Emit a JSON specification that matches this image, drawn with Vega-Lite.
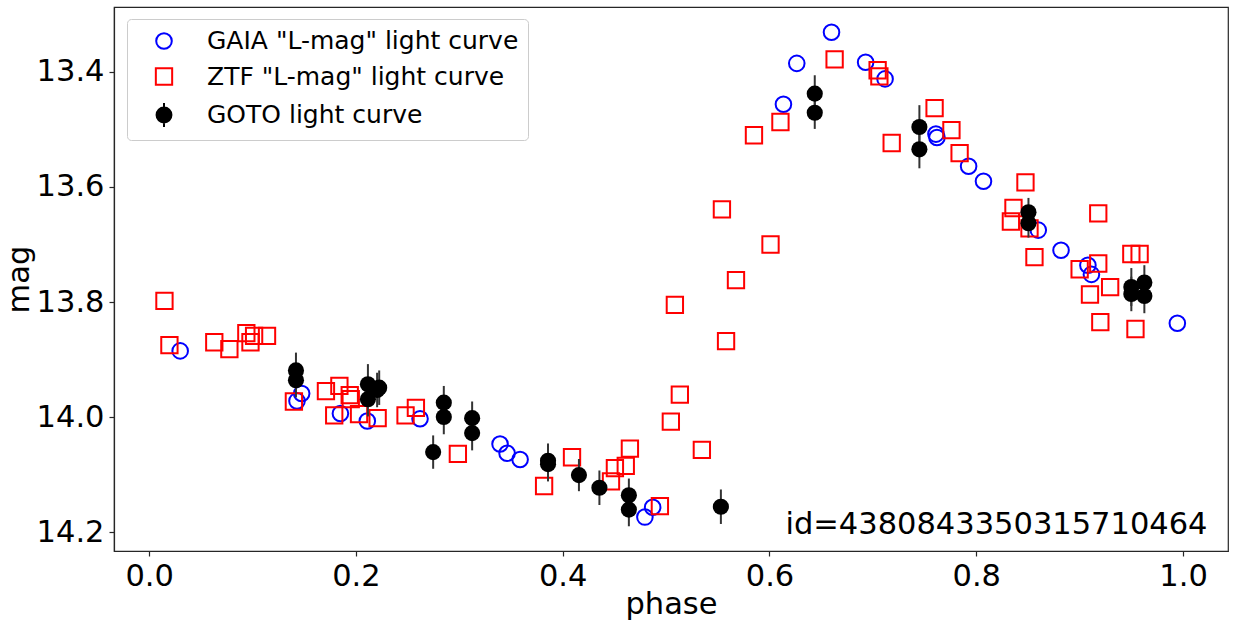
{
  "$schema": "https://vega.github.io/schema/vega-lite/v6.json",
  "width": 1114,
  "height": 544,
  "autosize": {"type": "none"},
  "padding": {"left": 114, "top": 7, "right": 9, "bottom": 76},
  "background": "white",
  "config": {
    "font": "DejaVu Sans",
    "view": {"stroke": "#262626", "strokeWidth": 1.2},
    "axis": {
      "labelFontSize": 30.5, "titleFontSize": 30.5,
      "labelFont": "DejaVu Sans", "titleFont": "DejaVu Sans",
      "titleFontWeight": "normal", "labelColor": "black", "titleColor": "black",
      "domainColor": "#262626", "tickColor": "#262626", "tickSize": 5, "tickWidth": 1.2,
      "domainWidth": 1.2, "labelPadding": 5, "grid": false
    },
    "legend": {
      "title": null,
      "orient": "none",
      "legendX": 13,
      "legendY": 12,
      "padding": 9,
      "symbolOffset": 15,
      "labelOffset": 30,
      "labelFontSize": 25,
      "labelFont": "DejaVu Sans",
      "labelColor": "black",
      "labelLimit": 0,
      "symbolSize": 576,
      "symbolStrokeWidth": 2,
      "rowPadding": 9.5,
      "strokeColor": "#cccccc",
      "fillColor": "rgba(255,255,255,0.8)",
      "cornerRadius": 4
    }
  },
  "datasets": {
    "pts": [
      {"series": "GAIA \"L-mag\" light curve", "phase": 0.030, "mag": 13.885},
      {"series": "GAIA \"L-mag\" light curve", "phase": 0.1475, "mag": 13.959},
      {"series": "GAIA \"L-mag\" light curve", "phase": 0.143, "mag": 13.972},
      {"series": "GAIA \"L-mag\" light curve", "phase": 0.185, "mag": 13.994},
      {"series": "GAIA \"L-mag\" light curve", "phase": 0.211, "mag": 14.007},
      {"series": "GAIA \"L-mag\" light curve", "phase": 0.262, "mag": 14.003},
      {"series": "GAIA \"L-mag\" light curve", "phase": 0.3394, "mag": 14.047},
      {"series": "GAIA \"L-mag\" light curve", "phase": 0.3462, "mag": 14.063},
      {"series": "GAIA \"L-mag\" light curve", "phase": 0.3588, "mag": 14.074},
      {"series": "GAIA \"L-mag\" light curve", "phase": 0.487, "mag": 14.157},
      {"series": "GAIA \"L-mag\" light curve", "phase": 0.4795, "mag": 14.174},
      {"series": "GAIA \"L-mag\" light curve", "phase": 0.6135, "mag": 13.456},
      {"series": "GAIA \"L-mag\" light curve", "phase": 0.6264, "mag": 13.385},
      {"series": "GAIA \"L-mag\" light curve", "phase": 0.660, "mag": 13.331},
      {"series": "GAIA \"L-mag\" light curve", "phase": 0.693, "mag": 13.383},
      {"series": "GAIA \"L-mag\" light curve", "phase": 0.7118, "mag": 13.412},
      {"series": "GAIA \"L-mag\" light curve", "phase": 0.761, "mag": 13.508},
      {"series": "GAIA \"L-mag\" light curve", "phase": 0.762, "mag": 13.514},
      {"series": "GAIA \"L-mag\" light curve", "phase": 0.7926, "mag": 13.564},
      {"series": "GAIA \"L-mag\" light curve", "phase": 0.807, "mag": 13.590},
      {"series": "GAIA \"L-mag\" light curve", "phase": 0.860, "mag": 13.675},
      {"series": "GAIA \"L-mag\" light curve", "phase": 0.882, "mag": 13.710},
      {"series": "GAIA \"L-mag\" light curve", "phase": 0.908, "mag": 13.736},
      {"series": "GAIA \"L-mag\" light curve", "phase": 0.9114, "mag": 13.752},
      {"series": "GAIA \"L-mag\" light curve", "phase": 0.9945, "mag": 13.837},
      {"series": "ZTF \"L-mag\" light curve", "phase": 0.0148, "mag": 13.798},
      {"series": "ZTF \"L-mag\" light curve", "phase": 0.0196, "mag": 13.875},
      {"series": "ZTF \"L-mag\" light curve", "phase": 0.063, "mag": 13.870},
      {"series": "ZTF \"L-mag\" light curve", "phase": 0.0776, "mag": 13.882},
      {"series": "ZTF \"L-mag\" light curve", "phase": 0.094, "mag": 13.854},
      {"series": "ZTF \"L-mag\" light curve", "phase": 0.098, "mag": 13.870},
      {"series": "ZTF \"L-mag\" light curve", "phase": 0.1015, "mag": 13.859},
      {"series": "ZTF \"L-mag\" light curve", "phase": 0.114, "mag": 13.859},
      {"series": "ZTF \"L-mag\" light curve", "phase": 0.140, "mag": 13.973},
      {"series": "ZTF \"L-mag\" light curve", "phase": 0.171, "mag": 13.955},
      {"series": "ZTF \"L-mag\" light curve", "phase": 0.184, "mag": 13.946},
      {"series": "ZTF \"L-mag\" light curve", "phase": 0.179, "mag": 13.997},
      {"series": "ZTF \"L-mag\" light curve", "phase": 0.194, "mag": 13.962},
      {"series": "ZTF \"L-mag\" light curve", "phase": 0.195, "mag": 13.969},
      {"series": "ZTF \"L-mag\" light curve", "phase": 0.203, "mag": 13.995},
      {"series": "ZTF \"L-mag\" light curve", "phase": 0.221, "mag": 14.002},
      {"series": "ZTF \"L-mag\" light curve", "phase": 0.248, "mag": 13.997},
      {"series": "ZTF \"L-mag\" light curve", "phase": 0.258, "mag": 13.984},
      {"series": "ZTF \"L-mag\" light curve", "phase": 0.2986, "mag": 14.064},
      {"series": "ZTF \"L-mag\" light curve", "phase": 0.382, "mag": 14.120},
      {"series": "ZTF \"L-mag\" light curve", "phase": 0.409, "mag": 14.070},
      {"series": "ZTF \"L-mag\" light curve", "phase": 0.4467, "mag": 14.112},
      {"series": "ZTF \"L-mag\" light curve", "phase": 0.4505, "mag": 14.089},
      {"series": "ZTF \"L-mag\" light curve", "phase": 0.461, "mag": 14.085},
      {"series": "ZTF \"L-mag\" light curve", "phase": 0.465, "mag": 14.055},
      {"series": "ZTF \"L-mag\" light curve", "phase": 0.494, "mag": 14.155},
      {"series": "ZTF \"L-mag\" light curve", "phase": 0.5046, "mag": 14.008},
      {"series": "ZTF \"L-mag\" light curve", "phase": 0.5085, "mag": 13.805},
      {"series": "ZTF \"L-mag\" light curve", "phase": 0.5133, "mag": 13.961},
      {"series": "ZTF \"L-mag\" light curve", "phase": 0.5346, "mag": 14.057},
      {"series": "ZTF \"L-mag\" light curve", "phase": 0.554, "mag": 13.639},
      {"series": "ZTF \"L-mag\" light curve", "phase": 0.558, "mag": 13.868},
      {"series": "ZTF \"L-mag\" light curve", "phase": 0.5676, "mag": 13.762},
      {"series": "ZTF \"L-mag\" light curve", "phase": 0.585, "mag": 13.510},
      {"series": "ZTF \"L-mag\" light curve", "phase": 0.601, "mag": 13.700},
      {"series": "ZTF \"L-mag\" light curve", "phase": 0.6106, "mag": 13.487},
      {"series": "ZTF \"L-mag\" light curve", "phase": 0.663, "mag": 13.378},
      {"series": "ZTF \"L-mag\" light curve", "phase": 0.7046, "mag": 13.397},
      {"series": "ZTF \"L-mag\" light curve", "phase": 0.7063, "mag": 13.4075},
      {"series": "ZTF \"L-mag\" light curve", "phase": 0.7182, "mag": 13.5235},
      {"series": "ZTF \"L-mag\" light curve", "phase": 0.7597, "mag": 13.463},
      {"series": "ZTF \"L-mag\" light curve", "phase": 0.776, "mag": 13.501},
      {"series": "ZTF \"L-mag\" light curve", "phase": 0.7839, "mag": 13.541},
      {"series": "ZTF \"L-mag\" light curve", "phase": 0.8335, "mag": 13.660},
      {"series": "ZTF \"L-mag\" light curve", "phase": 0.836, "mag": 13.6365},
      {"series": "ZTF \"L-mag\" light curve", "phase": 0.8476, "mag": 13.592},
      {"series": "ZTF \"L-mag\" light curve", "phase": 0.8515, "mag": 13.672},
      {"series": "ZTF \"L-mag\" light curve", "phase": 0.8563, "mag": 13.722},
      {"series": "ZTF \"L-mag\" light curve", "phase": 0.900, "mag": 13.743},
      {"series": "ZTF \"L-mag\" light curve", "phase": 0.910, "mag": 13.787},
      {"series": "ZTF \"L-mag\" light curve", "phase": 0.918, "mag": 13.646},
      {"series": "ZTF \"L-mag\" light curve", "phase": 0.918, "mag": 13.733},
      {"series": "ZTF \"L-mag\" light curve", "phase": 0.920, "mag": 13.835},
      {"series": "ZTF \"L-mag\" light curve", "phase": 0.9295, "mag": 13.774},
      {"series": "ZTF \"L-mag\" light curve", "phase": 0.950, "mag": 13.7165},
      {"series": "ZTF \"L-mag\" light curve", "phase": 0.958, "mag": 13.7165},
      {"series": "ZTF \"L-mag\" light curve", "phase": 0.954, "mag": 13.847}
    ],
    "goto": [
      {"phase": 0.142, "mag": 13.919, "err": 0.031},
      {"phase": 0.142, "mag": 13.936, "err": 0.030},
      {"phase": 0.2116, "mag": 13.943, "err": 0.035},
      {"phase": 0.2116, "mag": 13.969, "err": 0.030},
      {"phase": 0.2225, "mag": 13.949, "err": 0.030},
      {"phase": 0.2205, "mag": 13.953, "err": 0.030},
      {"phase": 0.2747, "mag": 14.061, "err": 0.029},
      {"phase": 0.285, "mag": 13.975, "err": 0.029},
      {"phase": 0.285, "mag": 14.000, "err": 0.030},
      {"phase": 0.3124, "mag": 14.002, "err": 0.029},
      {"phase": 0.3124, "mag": 14.028, "err": 0.030},
      {"phase": 0.3858, "mag": 14.076, "err": 0.030},
      {"phase": 0.3858, "mag": 14.082, "err": 0.030},
      {"phase": 0.4157, "mag": 14.101, "err": 0.028},
      {"phase": 0.4355, "mag": 14.123, "err": 0.030},
      {"phase": 0.464, "mag": 14.136, "err": 0.029},
      {"phase": 0.464, "mag": 14.161, "err": 0.029},
      {"phase": 0.553, "mag": 14.156, "err": 0.030},
      {"phase": 0.6438, "mag": 13.4377, "err": 0.032},
      {"phase": 0.6438, "mag": 13.471, "err": 0.028},
      {"phase": 0.745, "mag": 13.4957, "err": 0.038},
      {"phase": 0.745, "mag": 13.5345, "err": 0.033},
      {"phase": 0.8505, "mag": 13.644, "err": 0.025},
      {"phase": 0.8505, "mag": 13.663, "err": 0.025},
      {"phase": 0.950, "mag": 13.774, "err": 0.033},
      {"phase": 0.950, "mag": 13.786, "err": 0.030},
      {"phase": 0.9626, "mag": 13.766, "err": 0.030},
      {"phase": 0.9626, "mag": 13.7895, "err": 0.030}
    ],
    "note": [
      {"phase": 1.0237, "mag": 14.204, "label": "id=4380843350315710464"}
    ]
  },
  "layer": [
    {
      "data": {"name": "pts"},
      "mark": {"type": "point", "filled": true, "strokeWidth": 2, "size": 576, "opacity": 1, "fillOpacity": 1, "strokeOpacity": 1},
      "encoding": {
        "x": {
          "field": "phase", "type": "quantitative",
          "scale": {"domain": [-0.034, 1.0435], "nice": false, "zero": false},
          "axis": {"values": [0, 0.2, 0.4, 0.6, 0.8, 1.0], "format": ".1f", "title": "phase", "titlePadding": -2}
        },
        "y": {
          "field": "mag", "type": "quantitative",
          "scale": {"domain": [13.287, 14.233], "reverse": true, "nice": false, "zero": false},
          "axis": {"values": [13.4, 13.6, 13.8, 14.0, 14.2], "format": ".1f", "title": "mag", "titlePadding": 2}
        },
        "stroke": {
          "field": "series", "type": "nominal",
          "scale": {
            "domain": ["GAIA \"L-mag\" light curve", "ZTF \"L-mag\" light curve", "GOTO light curve"],
            "range": ["#0000ff", "#ff0000", "#000000"]
          }
        },
        "fill": {
          "field": "series", "type": "nominal",
          "scale": {
            "domain": ["GAIA \"L-mag\" light curve", "ZTF \"L-mag\" light curve", "GOTO light curve"],
            "range": ["transparent", "transparent", "#000000"]
          }
        },
        "shape": {
          "field": "series", "type": "nominal",
          "scale": {
            "domain": ["GAIA \"L-mag\" light curve", "ZTF \"L-mag\" light curve", "GOTO light curve"],
            "range": [
              "M-0.65,0A0.65,0.65,0,1,1,0.65,0A0.65,0.65,0,1,1,-0.65,0Z",
              "M-0.68,-0.68H0.68V0.68H-0.68Z",
              "M0,-1V1M-0.62,0A0.62,0.62,0,1,1,0.62,0A0.62,0.62,0,1,1,-0.62,0Z"
            ]
          }
        }
      }
    },
    {
      "data": {"name": "goto"},
      "mark": {"type": "errorbar", "color": "#333333", "thickness": 2},
      "encoding": {
        "x": {"field": "phase", "type": "quantitative"},
        "y": {"field": "mag", "type": "quantitative"},
        "yError": {"field": "err"}
      }
    },
    {
      "data": {"name": "goto"},
      "mark": {"type": "circle", "color": "black", "size": 260, "opacity": 1},
      "encoding": {
        "x": {"field": "phase", "type": "quantitative"},
        "y": {"field": "mag", "type": "quantitative"}
      }
    },
    {
      "data": {"name": "note"},
      "mark": {"type": "text", "align": "right", "baseline": "alphabetic", "fontSize": 30.5, "font": "DejaVu Sans", "color": "black"},
      "encoding": {
        "x": {"field": "phase", "type": "quantitative"},
        "y": {"field": "mag", "type": "quantitative"},
        "text": {"field": "label"}
      }
    }
  ]
}
